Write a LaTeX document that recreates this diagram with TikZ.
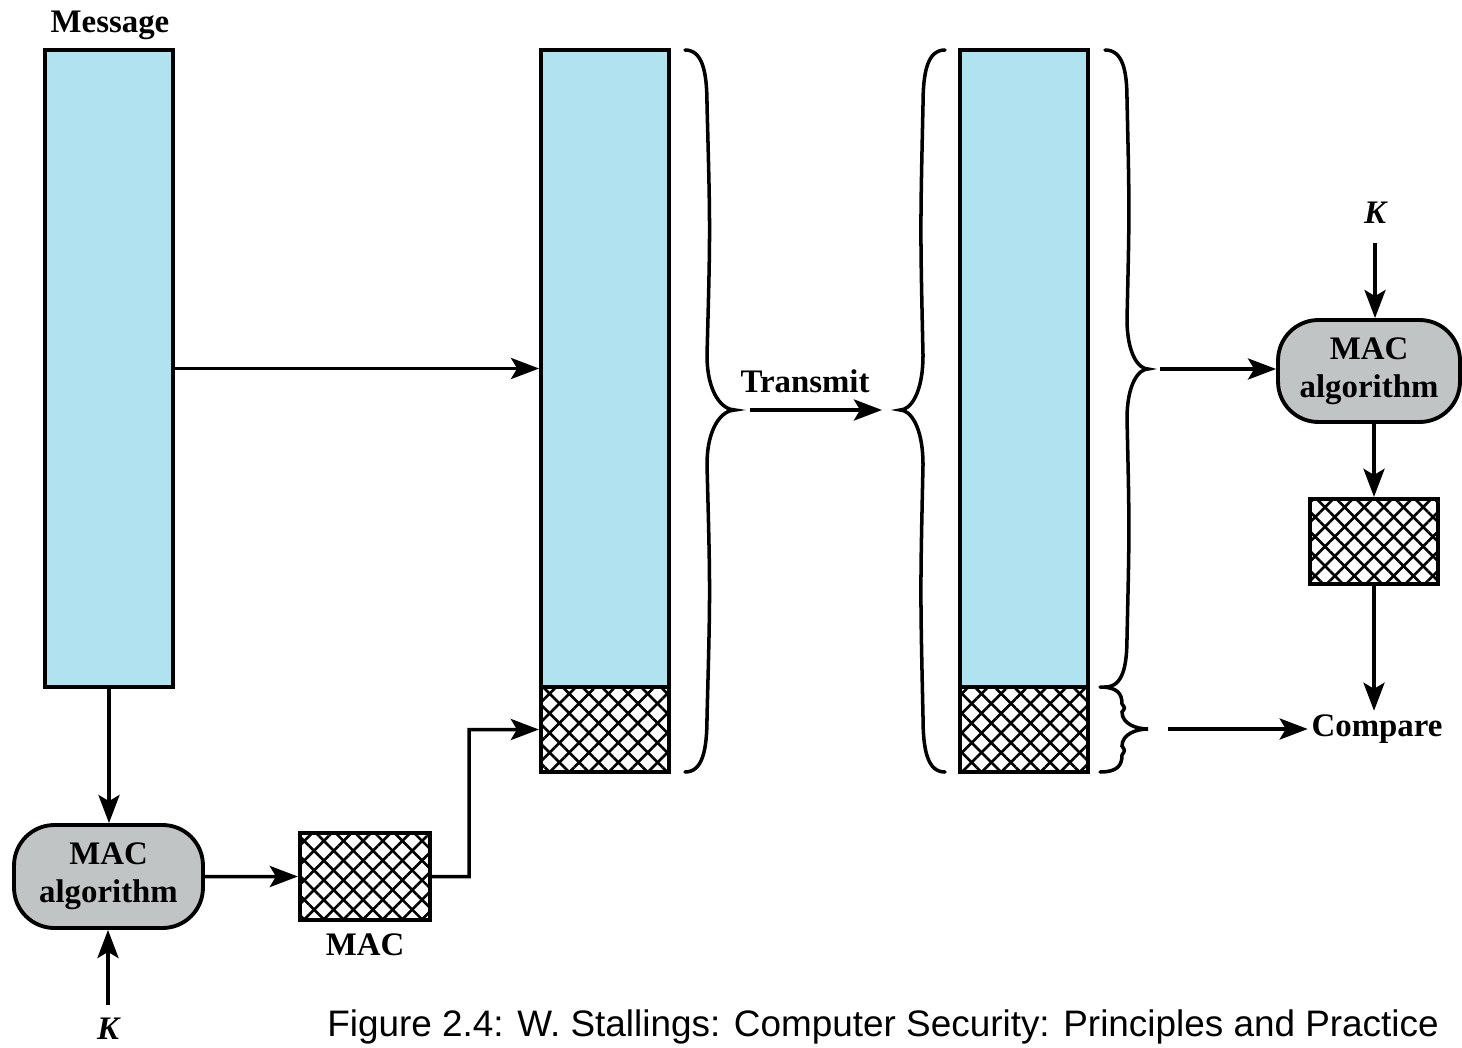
\documentclass[tikz,border=0pt]{standalone}
\usepackage{fontspec}
\setmainfont{Liberation Serif}
\newfontfamily\capfont{Liberation Sans}
\usetikzlibrary{arrows.meta,patterns.meta,fit}

\definecolor{msgblue}{RGB}{176,226,239}
\definecolor{algogray}{RGB}{192,196,196}

% Curly brace: #1 end x, #2 body x, #3 tip x, #4 top y, #5 tip y, #6 bottom y, #7 hook length
\newcommand\curlybrace[7]{%
  \draw[brace line]
    (#1,#4) .. controls ({#1+0.8*(#2-#1)},#4) and (#2,{#4+0.4*#7}) .. (#2,{#4+#7})
    .. controls ({#2+0.12*(#3-#2)},{#4+0.5*(#5-#4)}) .. (#2,{#5-#7})
    .. controls (#2,{#5-0.3*#7}) and ({#2+0.55*(#3-#2)},#5) .. (#3,#5)
    .. controls ({#2+0.55*(#3-#2)},#5) and (#2,{#5+0.3*#7}) .. (#2,{#5+#7})
    .. controls ({#2+0.12*(#3-#2)},{#5+0.5*(#6-#5)}) .. (#2,{#6-#7})
    .. controls (#2,{#6-0.4*#7}) and ({#1+0.8*(#2-#1)},#6) .. (#1,#6);
}

\begin{document}
\begin{tikzpicture}[x=0.02cm,y=-0.02cm,
  lbl/.style={font=\bfseries\fontsize{18.7}{21.6}\selectfont, inner sep=2pt},
  keylbl/.style={font=\bfseries\itshape\fontsize{18.7}{21.6}\selectfont, inner sep=2pt},
  msgbox/.style={draw, line width=2.2pt, fill=msgblue, inner sep=0pt},
  hatchbox/.style={draw, line width=2.4pt, inner sep=0pt,
    preaction={fill=white},
    preaction={pattern={Lines[angle=45,distance=7.9pt,line width=1.5pt]}},
    preaction={pattern={Lines[angle=-45,distance=7.9pt,line width=1.5pt]}}},
  algo/.style={draw, line width=2.2pt, fill=algogray, rounded corners=23pt,
    inner sep=0pt, align=center, font=\bfseries\fontsize{18.7}{21.6}\selectfont},
  conn/.style={line width=2pt, -{Stealth[length=16pt,width=12pt,inset=3.5pt]}},
  brace line/.style={line width=2pt, line cap=round},
]
\useasboundingbox (0,0) rectangle (1462,1047);

% sender side
\node[lbl] (msglbl) at (110,25) {Message};
\node[msgbox, fit={(45,50) (173,687)}] (msg) {};
\node[algo, minimum width=3.78cm, minimum height=2.06cm] (algoA) at (108.5,876.5) {MAC\\algorithm};
\node[keylbl] (keyA) at (108,1029) {K};
\node[hatchbox, fit={(300,833) (430,920)}] (tag) {};
\node[lbl] (taglbl) at (365,945) {MAC};
\coordinate (turn) at (469,876.5);

% transmitted message with appended MAC
\node[msgbox, fit={(541,50) (669,687)}] (sentmsg) {};
\node[hatchbox, fit={(541,687) (669,772)}] (senttag) {};

% received message with MAC
\node[msgbox, fit={(960,50) (1088,687)}] (recvmsg) {};
\node[hatchbox, fit={(960,687) (1088,772)}] (recvtag) {};

% receiver side
\node[keylbl] (keyB) at (1375,213) {K};
\node[algo, minimum width=3.64cm, minimum height=2.04cm] (algoB) at (1369,371) {MAC\\algorithm};
\node[hatchbox, fit={(1310,499) (1438,584)}] (tagB) {};
\node[lbl] (cmp) at (1377,729) {Compare};

% transmit label and arrow
\node[lbl] (tx) at (805,381) {Transmit};
\coordinate (txA) at (750,410);
\coordinate (txB) at (882,410);
\coordinate (outA) at (1160,369);
\coordinate (outB) at (1168,729);
\coordinate (keyAtop) at (108,1005);
\coordinate (keyBbot) at (1375,243);

% braces
\curlybrace{685}{707}{735}{50}{410}{772}{55}
\curlybrace{945}{923}{900}{50}{410}{772}{55}
\curlybrace{1105}{1127}{1148}{50}{369}{687}{50}
\curlybrace{1100}{1122}{1148}{687}{729}{772}{17}

% connectors
\draw[conn] (msg.east) -- (sentmsg.west);
\draw[conn] (msg.south) -- (msg.south |- algoA.north);
\draw[conn] (keyAtop) -- (keyAtop |- algoA.south);
\draw[conn] (algoA.east) -- (tag.west);
\draw[conn] (tag.east) -- (turn) |- (senttag.west);
\draw[conn] (txA) -- (txB);
\draw[conn] (outA) -- (outA -| algoB.west);
\draw[conn] (keyBbot) -- (keyBbot |- algoB.north);
\draw[conn] (tagB.north |- algoB.south) -- (tagB.north);
\draw[conn] (tagB.south) -- (tagB.south |- cmp.north);
\draw[conn] (outB) -- (cmp.west);

% caption
\node[font=\capfont\fontsize{21}{25}\selectfont, inner sep=0pt] (caption) at (883,1027)
  {Figure 2.4: W. Stallings: Computer Security: Principles and Practice};
\end{tikzpicture}
\end{document}
